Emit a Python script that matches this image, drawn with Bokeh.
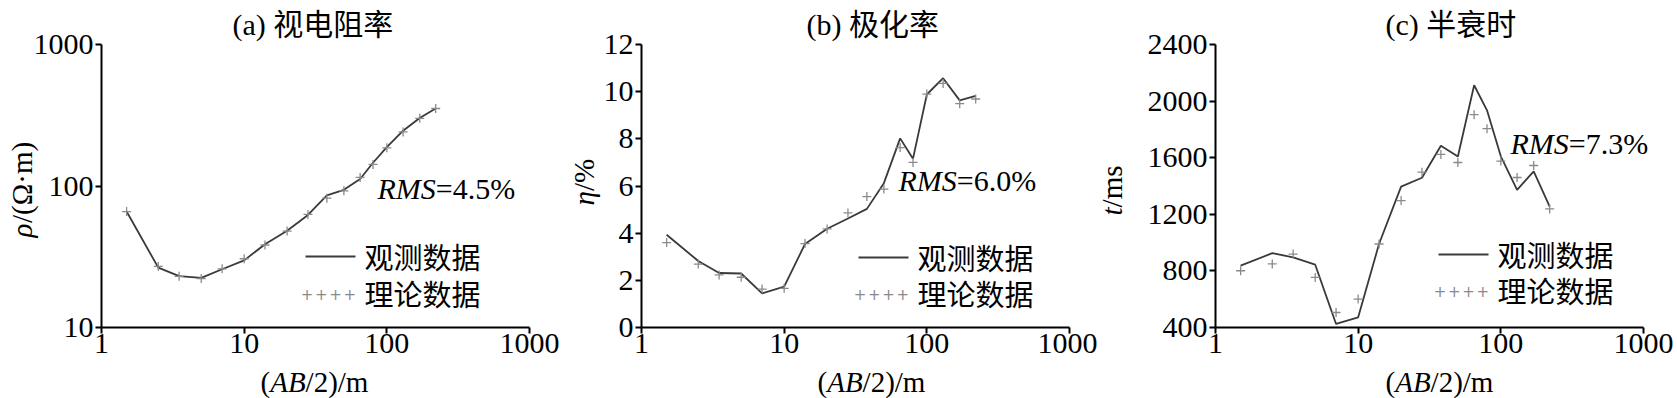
import math
from bokeh.plotting import figure
from bokeh.layouts import row
from bokeh.models import Range1d, FixedTicker, PrintfTickFormatter, Label, Arrow
from bokeh.embed import file_html
from bokeh.resources import INLINE

# ---------------- data ----------------
x_ab2 = [1.5, 2.5, 3.5, 5, 7, 10, 14, 20, 28, 38, 50, 65, 80, 100, 130, 170, 220]

rho_obs = [66, 26.5, 23.1, 22.4, 25.8, 29.8, 38.8, 48.3, 62.4, 86, 94, 112, 146, 188, 246, 302, 353]
rho_th = [66, 27, 23, 22.2, 26, 30.6, 38.3, 48, 63, 82, 92.5, 115, 142, 186, 241, 301, 353]

eta_obs = [3.93, 2.82, 2.31, 2.29, 1.45, 1.73, 3.54, 4.19, 4.62, 5.03, 6.12, 8.02, 7.16, 9.88, 10.57, 9.63, 9.82]
eta_th = [3.60, 2.69, 2.23, 2.13, 1.63, 1.66, 3.56, 4.18, 4.86, 5.55, 5.87, 7.63, 7.0, 9.9, 10.35, 9.49, 9.69]

t_obs = [837, 925, 896, 844, 425, 472, 990, 1396, 1458, 1684, 1609, 2112, 1935, 1610, 1373, 1503, 1255]
t_th = [801, 849, 919, 754, 506, 601, 990, 1297, 1498, 1623, 1566, 1904, 1805, 1576, 1460, 1545, 1238]

x_ticks = [1, 10, 100, 1000]
rho_ticks = [10, 100, 1000]
eta_ticks = [0, 2, 4, 6, 8, 10, 12]
t_ticks = [400, 800, 1200, 1600, 2000, 2400]

titles = ["(a) 视电阻率", "(b) 极化率", "(c) 半衰时"]
rms_texts = ["=4.5%", "=6.0%", "=7.3%"]
legend_labels = ["观测数据", "理论数据"]
ylabel_parts = [("ρ", "/(Ω·m)"), ("η", "/%"), ("t", "/ms")]

SERIF = "Liberation Serif"
MIXED = "Liberation Serif, Noto Sans CJK SC"
CJK = "Noto Sans CJK SC"

LINE_COLOR = "#3a3a3a"
MARK_COLOR = "#8a8a8a"

H = 398          # canvas height (layout sits at the page's top-left)
PA_TOP = 44      # plot-area top, page pixels
PA_BOT = 327     # plot-area bottom, page pixels
PW = 428         # plot-area width


def lab(p, ox, fx, fy, text, size, font=SERIF, style="normal", align="left",
        angle=0.0, color="black"):
    # fx, fy: page pixel position of the text's left end / vertical middle
    p.add_layout(Label(x=fx - ox, y=H - fy, x_units="screen", y_units="screen",
                       text=text, text_font=font, text_font_size=f"{size}px",
                       text_font_style=style, text_align=align,
                       text_baseline="middle", angle=angle, text_color=color))


def panel(idx, ox, width, pa_left, y_type, y_lo, y_hi, y_ticks, obs, th, cfg):
    bl = pa_left - ox
    br = width - bl - PW
    top = PA_TOP
    ph = PA_BOT - PA_TOP
    bottom = H - top - ph
    dec_x = PW / 3.0
    x_range = Range1d(10 ** (-bl / dec_x), 10 ** (3 + br / dec_x))
    if y_type == "log":
        lo, hi = math.log10(y_lo), math.log10(y_hi)
        per = ph / (hi - lo)
        y_range = Range1d(10 ** (lo - bottom / per), 10 ** (hi + top / per))
    else:
        per = ph / (y_hi - y_lo)
        y_range = Range1d(y_lo - bottom / per, y_hi + top / per)

    p = figure(width=width, height=H, x_axis_type="log", y_axis_type=y_type,
               x_range=x_range, y_range=y_range,
               output_backend="svg", toolbar_location=None, min_border=0)
    p.outline_line_color = None
    p.xgrid.visible = False
    p.ygrid.visible = False
    p.background_fill_color = "white"
    p.border_fill_color = "white"

    xa, ya = p.xaxis[0], p.yaxis[0]
    for ax in (xa, ya):
        ax.axis_line_width = 2
        ax.axis_line_color = "black"
        ax.major_tick_out = 6
        ax.major_tick_in = 0
        ax.major_tick_line_width = 2
        ax.minor_tick_out = 0
        ax.minor_tick_in = 0
        ax.major_label_text_font = SERIF
        ax.major_label_text_font_size = "30px"
        ax.major_label_text_color = "black"
        ax.formatter = PrintfTickFormatter(format="%d")
    xa.ticker = FixedTicker(ticks=x_ticks)
    xa.fixed_location = y_lo
    xa.bounds = (x_ticks[0], x_ticks[-1])
    xa.major_label_standoff = 0
    ya.ticker = FixedTicker(ticks=y_ticks)
    ya.fixed_location = x_ticks[0]
    ya.bounds = (y_lo, y_hi)
    ya.major_label_standoff = 2

    p.line(x_ab2, obs, line_color=LINE_COLOR, line_width=1.8)
    p.scatter(x_ab2, th, marker="cross", size=9, line_color=MARK_COLOR, line_width=1.3)

    # title
    lab(p, ox, cfg["title_x"], 23.5, titles[idx], 30, font=MIXED)
    # RMS
    rx, ry = cfg["rms"]
    lab(p, ox, rx, ry, "RMS", 30, style="italic")
    lab(p, ox, rx + 58.3, ry, rms_texts[idx], 30)
    # x label
    xx = cfg["xlab_x"]
    xy = 381
    lab(p, ox, xx, xy, "(", 29)
    lab(p, ox, xx + 9.7, xy, "AB", 29, style="italic")
    lab(p, ox, xx + 45.1, xy, "/2)/m", 29)
    # y label (rotated, reading upward)
    yx, yy = cfg["ylab"]
    first, rest = ylabel_parts[idx]
    lab(p, ox, yx, yy, first, 29, style="italic", angle=math.pi / 2)
    lab(p, ox, yx, yy - cfg["ylab_w"], rest, 29, angle=math.pi / 2)
    # legend
    lx, ly1, ly2 = cfg["legend"]
    p.add_layout(Arrow(start=None, end=None,
                       x_start=lx - ox, y_start=H - ly1 - 1,
                       x_end=lx + 50 - ox, y_end=H - ly1 - 1,
                       start_units="screen", end_units="screen",
                       line_color=LINE_COLOR, line_width=1.8))
    lab(p, ox, lx + 59, ly1, legend_labels[0], 29, font=CJK)
    for k in range(4):
        lab(p, ox, lx + 1.5 + k * 14.3, ly2 + 1, "+", 15, font="DejaVu Sans", align="center",
            color=MARK_COLOR)
    lab(p, ox, lx + 59, ly2, legend_labels[1], 29, font=CJK)
    return p


p1 = panel(0, 0, 562, 101, "log", 10, 1000, rho_ticks, rho_obs, rho_th,
           dict(title_x=232, rms=(377, 188), xlab_x=260, ylab=(21, 237), ylab_w=14.5,
                legend=(305, 255, 292)))
p2 = panel(1, 562, 535, 641, "linear", 0, 12, eta_ticks, eta_obs, eta_th,
           dict(title_x=806, rms=(898, 180), xlab_x=817, ylab=(583, 205), ylab_w=14.5,
                legend=(858, 256, 292)))
p3 = panel(2, 1097, 580, 1215, "linear", 400, 2400, t_ticks, t_obs, t_th,
           dict(title_x=1385, rms=(1510, 142.5), xlab_x=1385, ylab=(1111, 215), ylab_w=8.1,
                legend=(1438, 253, 289)))

layout = row(p1, p2, p3, spacing=0)
open("out.html", "w").write(file_html(layout, INLINE))
